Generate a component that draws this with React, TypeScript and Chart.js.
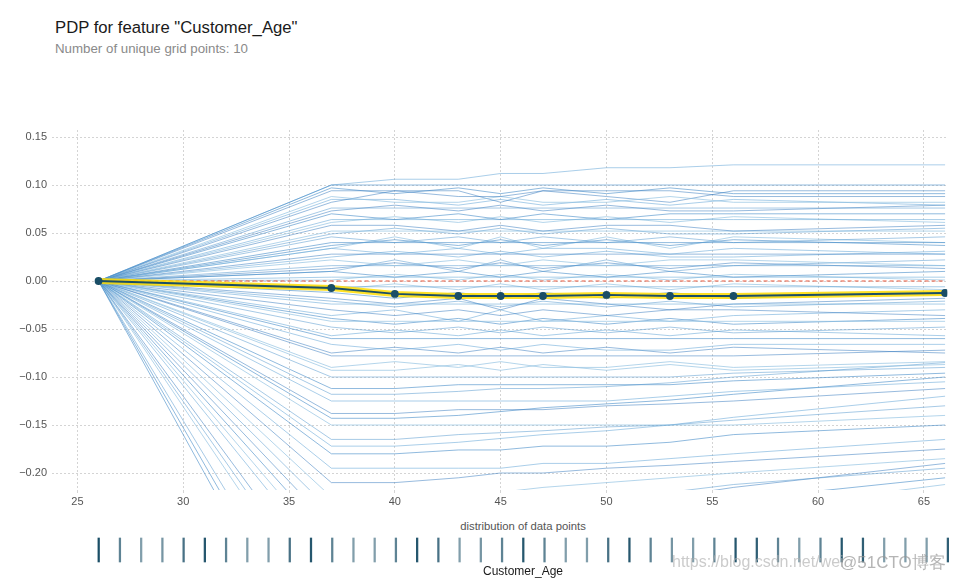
import React, { useEffect, useRef } from "react";
import { Chart, registerables } from "chart.js";
Chart.register(...registerables);

const gridAges = [26, 37, 40, 43, 45, 47, 50, 53, 56, 66];
const pdpValues = [0, -0.0073, -0.0135, -0.0156, -0.0156, -0.0156, -0.0145, -0.0156, -0.0156, -0.0125];

const iceUpper = [
  [0, 0.100, 0.100, 0.100, 0.100, 0.100, 0.100, 0.100, 0.100, 0.100],
  [0, 0.100, 0.106, 0.106, 0.112, 0.112, 0.118, 0.118, 0.121, 0.121],
  [0, 0.094, 0.094, 0.088, 0.088, 0.094, 0.094, 0.094, 0.088, 0.088],
  [0, 0.088, 0.082, 0.082, 0.088, 0.082, 0.082, 0.088, 0.082, 0.082],
  [0, 0.076, 0.076, 0.076, 0.076, 0.076, 0.076, 0.076, 0.076, 0.076],
  [0, 0.070, 0.064, 0.070, 0.064, 0.070, 0.064, 0.070, 0.070, 0.070],
  [0, 0.064, 0.064, 0.064, 0.064, 0.064, 0.064, 0.064, 0.064, 0.064],
  [0, 0.058, 0.058, 0.052, 0.058, 0.052, 0.058, 0.058, 0.052, 0.058],
  [0, 0.052, 0.052, 0.052, 0.052, 0.052, 0.052, 0.052, 0.052, 0.052],
  [0, 0.046, 0.040, 0.046, 0.040, 0.046, 0.040, 0.046, 0.040, 0.046],
  [0, 0.040, 0.040, 0.040, 0.040, 0.040, 0.040, 0.040, 0.040, 0.040],
  [0, 0.034, 0.028, 0.034, 0.028, 0.034, 0.034, 0.028, 0.034, 0.028],
  [0, 0.028, 0.028, 0.028, 0.028, 0.028, 0.028, 0.028, 0.028, 0.028],
  [0, 0.022, 0.016, 0.022, 0.016, 0.022, 0.016, 0.022, 0.022, 0.016],
  [0, 0.016, 0.016, 0.016, 0.016, 0.016, 0.016, 0.016, 0.016, 0.016],
  [0, 0.010, 0.004, 0.010, 0.004, 0.010, 0.004, 0.010, 0.004, 0.010],
  [0, 0.004, 0.004, 0.004, 0.004, 0.004, 0.004, 0.004, 0.004, 0.004],
  [0, 0.082, 0.094, 0.094, 0.082, 0.094, 0.088, 0.082, 0.094, 0.094],
  [0, 0.034, 0.046, 0.034, 0.046, 0.034, 0.046, 0.034, 0.046, 0.040],
  [0, 0.010, 0.022, 0.010, 0.022, 0.010, 0.022, 0.010, 0.016, 0.022],
  [0, 0.097, 0.091, 0.097, 0.091, 0.097, 0.091, 0.097, 0.091, 0.091],
  [0, 0.085, 0.085, 0.079, 0.085, 0.079, 0.085, 0.079, 0.085, 0.079],
  [0, 0.073, 0.079, 0.073, 0.079, 0.073, 0.079, 0.073, 0.073, 0.079],
  [0, 0.061, 0.067, 0.061, 0.067, 0.061, 0.067, 0.061, 0.067, 0.061],
  [0, 0.049, 0.055, 0.049, 0.055, 0.049, 0.055, 0.049, 0.049, 0.055],
  [0, 0.037, 0.043, 0.037, 0.043, 0.037, 0.043, 0.037, 0.043, 0.037],
  [0, 0.025, 0.031, 0.025, 0.031, 0.025, 0.031, 0.025, 0.025, 0.031],
  [0, 0.013, 0.019, 0.013, 0.019, 0.013, 0.019, 0.013, 0.019, 0.013],
  [0, 0.001, 0.007, 0.001, 0.007, 0.001, 0.007, 0.001, 0.007, 0.001],
];

const iceLower = [
  [0, -0.006, -0.006, -0.006, -0.006, -0.006, -0.006, -0.006, -0.006, -0.006],
  [0, -0.012, -0.018, -0.012, -0.018, -0.012, -0.018, -0.012, -0.018, -0.012],
  [0, -0.024, -0.024, -0.024, -0.024, -0.024, -0.024, -0.024, -0.024, -0.024],
  [0, -0.030, -0.036, -0.030, -0.036, -0.030, -0.036, -0.030, -0.030, -0.036],
  [0, -0.042, -0.042, -0.042, -0.042, -0.042, -0.042, -0.042, -0.042, -0.042],
  [0, -0.048, -0.054, -0.048, -0.054, -0.048, -0.054, -0.048, -0.054, -0.048],
  [0, -0.060, -0.060, -0.060, -0.060, -0.060, -0.060, -0.060, -0.060, -0.060],
  [0, -0.066, -0.072, -0.066, -0.072, -0.066, -0.072, -0.072, -0.066, -0.066],
  [0, -0.078, -0.078, -0.078, -0.078, -0.078, -0.078, -0.078, -0.078, -0.072],
  [0, -0.090, -0.084, -0.090, -0.084, -0.090, -0.090, -0.084, -0.090, -0.084],
  [0, -0.100, -0.100, -0.100, -0.100, -0.100, -0.100, -0.100, -0.096, -0.090],
  [0, -0.112, -0.112, -0.108, -0.108, -0.108, -0.108, -0.108, -0.104, -0.096],
  [0, -0.125, -0.125, -0.125, -0.125, -0.125, -0.125, -0.120, -0.115, -0.105],
  [0, -0.138, -0.138, -0.134, -0.134, -0.134, -0.130, -0.128, -0.125, -0.112],
  [0, -0.150, -0.150, -0.150, -0.150, -0.150, -0.150, -0.150, -0.150, -0.140],
  [0, -0.165, -0.165, -0.160, -0.158, -0.156, -0.152, -0.150, -0.145, -0.130],
  [0, -0.180, -0.180, -0.176, -0.176, -0.172, -0.172, -0.168, -0.160, -0.150],
  [0, -0.195, -0.195, -0.195, -0.195, -0.190, -0.190, -0.185, -0.180, -0.165],
  [0, -0.210, -0.210, -0.205, -0.200, -0.200, -0.195, -0.192, -0.188, -0.175],
  [0, -0.225, -0.225, -0.225, -0.220, -0.215, -0.210, -0.205, -0.200, -0.185],
  [0, -0.240, -0.240, -0.236, -0.232, -0.228, -0.224, -0.220, -0.212, -0.195],
  [0, -0.270, -0.270, -0.262, -0.256, -0.250, -0.244, -0.236, -0.228, -0.205],
  [0, -0.300, -0.300, -0.292, -0.286, -0.280, -0.270, -0.262, -0.250, -0.220],
  [0, -0.330, -0.330, -0.320, -0.312, -0.304, -0.296, -0.286, -0.276, -0.240],
  [0, -0.360, -0.360, -0.352, -0.344, -0.336, -0.326, -0.316, -0.304, -0.265],
  [0, -0.400, -0.400, -0.390, -0.380, -0.370, -0.360, -0.350, -0.340, -0.300],
  [0, -0.440, -0.440, -0.430, -0.420, -0.410, -0.400, -0.390, -0.380, -0.340],
  [0, -0.036, -0.030, -0.042, -0.030, -0.042, -0.036, -0.042, -0.036, -0.030],
  [0, -0.018, -0.024, -0.018, -0.030, -0.018, -0.024, -0.030, -0.024, -0.018],
  [0, -0.009, -0.003, -0.009, -0.003, -0.009, -0.003, -0.009, -0.003, -0.009],
  [0, -0.021, -0.027, -0.021, -0.027, -0.021, -0.027, -0.021, -0.027, -0.021],
  [0, -0.039, -0.045, -0.039, -0.045, -0.039, -0.045, -0.039, -0.045, -0.039],
  [0, -0.057, -0.051, -0.057, -0.051, -0.057, -0.051, -0.057, -0.051, -0.057],
  [0, -0.075, -0.069, -0.075, -0.069, -0.075, -0.069, -0.075, -0.069, -0.075],
  [0, -0.093, -0.093, -0.087, -0.093, -0.087, -0.093, -0.087, -0.093, -0.087],
  [0, -0.118, -0.118, -0.115, -0.112, -0.112, -0.110, -0.106, -0.100, -0.085],
  [0, -0.143, -0.143, -0.140, -0.136, -0.132, -0.128, -0.124, -0.118, -0.100],
  [0, -0.172, -0.172, -0.168, -0.164, -0.160, -0.156, -0.150, -0.142, -0.120],
  [0, -0.255, -0.255, -0.250, -0.245, -0.240, -0.232, -0.225, -0.215, -0.190],
  [0, -0.285, -0.285, -0.280, -0.272, -0.266, -0.258, -0.250, -0.240, -0.212],
  [0, -0.345, -0.345, -0.338, -0.330, -0.322, -0.312, -0.302, -0.290, -0.255],
  [0, -0.420, -0.420, -0.410, -0.400, -0.390, -0.380, -0.370, -0.360, -0.320],
];

const xTicks = [25, 30, 35, 40, 45, 50, 55, 60, 65];
const yTicks = [-0.2, -0.15, -0.1, -0.05, 0, 0.05, 0.1, 0.15];

const rugAges = [
  26, 27, 28, 29, 30, 31, 32, 33, 34, 35, 36, 37, 38, 39, 40, 41, 42, 43, 44, 45, 46,
  47, 48, 49, 50, 51, 52, 53, 54, 55, 56, 57, 58, 59, 60, 61, 62, 63, 64, 65, 66,
];
const rugDensity = [
  1.0, 0.7, 0.55, 0.6, 0.8, 0.95, 0.7, 0.55, 0.55, 0.8, 0.95, 0.7, 0.55, 0.55, 0.7, 0.95, 0.8,
  0.55, 0.6, 0.7, 0.95, 0.7, 0.55, 0.55, 0.8, 0.95, 0.7, 0.6, 0.55, 0.7, 0.95, 0.9, 0.7, 0.55,
  0.7, 0.95, 0.9, 0.55, 0.55, 0.55, 0.9,
];

const X_MIN = 23.8;
const X_MAX = 66.1;
const Y_MIN = -0.2177;
const Y_MAX = 0.1573;

const FONT = "'Liberation Sans', Arial, Helvetica, sans-serif";
const icePalette = [
  "rgba(70,140,200,0.6)",
  "rgba(100,165,215,0.55)",
  "rgba(50,120,190,0.5)",
  "rgba(140,190,225,0.65)",
  "rgba(80,150,205,0.5)",
];

export default function App() {
  const mainRef = useRef<HTMLCanvasElement>(null);
  const rugRef = useRef<HTMLCanvasElement>(null);

  useEffect(() => {
    Chart.defaults.font.family = FONT;
    const toPts = (vals: number[]) => gridAges.map((x, i) => ({ x, y: vals[i] }));
    const iceAll = [...iceUpper, ...iceLower];
    const iceSets = iceAll.map((line, i) => ({
      data: toPts(line),
      borderColor: icePalette[i % icePalette.length],
      borderWidth: 1,
      pointRadius: 0,
      order: 10,
      tension: 0,
    }));
    const datasets: any[] = [
      ...iceSets,
      {
        data: toPts(gridAges.map(() => 0)),
        borderColor: "#E75438",
        borderWidth: 1.2,
        borderDash: [4, 3],
        pointRadius: 0,
        order: 3,
      },
      {
        data: toPts(pdpValues),
        borderColor: "rgba(254,220,0,0.85)",
        borderWidth: 6,
        pointRadius: 0,
        order: 2,
      },
      {
        data: toPts(pdpValues),
        borderColor: "#1A4E66",
        borderWidth: 1.8,
        pointRadius: 3,
        pointBackgroundColor: "#1A4E66",
        pointBorderColor: "#1A4E66",
        order: 1,
      },
    ];

    const main = new Chart(mainRef.current!, {
      type: "line",
      data: { datasets },
      options: {
        responsive: false,
        animation: false,
        events: [],
        layout: { padding: { left: 0, right: 3, top: 30, bottom: 0 } },
        plugins: { legend: { display: false }, tooltip: { enabled: false } },
        scales: {
          x: {
            type: "linear",
            min: X_MIN,
            max: X_MAX,
            afterFit: (s: any) => { s.height = 30; },
            afterBuildTicks: (s: any) => { s.ticks = xTicks.map((v) => ({ value: v })); },
            grid: { color: "#d4d4d4", lineWidth: 1, drawTicks: true, tickLength: 3 },
            border: { display: false, dash: [2, 2] },
            ticks: { color: "#555", font: { size: 11 }, padding: 2, callback: (v: any) => String(v) },
          },
          y: {
            type: "linear",
            min: Y_MIN,
            max: Y_MAX,
            afterFit: (s: any) => { s.width = 52; },
            afterBuildTicks: (s: any) => { s.ticks = yTicks.map((v) => ({ value: v })); },
            grid: { color: "#d4d4d4", lineWidth: 1, drawTicks: false },
            border: { display: false, dash: [2, 2] },
            ticks: {
              color: "#555",
              font: { size: 11 },
              padding: 5,
              callback: (v: any) => Number(v).toFixed(2).replace("-", "\u2212"),
            },
          },
        },
      },
    });

    const rug = new Chart(rugRef.current!, {
      type: "bar",
      data: {
        datasets: [
          {
            data: rugAges.map((a) => ({ x: a, y: [0.4, 1.6] })),
            barThickness: 1.6,
            backgroundColor: rugDensity.map((d) => `rgba(26,78,102,${d})`),
            borderWidth: 0,
          } as any,
        ],
      },
      options: {
        responsive: false,
        animation: false,
        events: [],
        layout: { padding: { left: 52, right: 3, top: 0, bottom: 0 } },
        plugins: { legend: { display: false }, tooltip: { enabled: false } },
        scales: {
          x: { type: "linear", min: X_MIN, max: X_MAX, display: false, offset: false },
          y: { type: "linear", min: 0, max: 2, display: false },
        },
      },
    });

    return () => {
      main.destroy();
      rug.destroy();
    };
  }, []);

  return (
    <div
      style={{
        position: "absolute",
        left: 0,
        top: 0,
        width: 953,
        height: 581,
        background: "#fff",
        fontFamily: FONT,
        overflow: "hidden",
      }}
    >
      <div style={{ position: "absolute", left: 55, top: 18, fontSize: 16.7, color: "#1a1a1a", whiteSpace: "nowrap" }}>
        PDP for feature "Customer_Age"
      </div>
      <div style={{ position: "absolute", left: 55, top: 41, fontSize: 13.3, color: "#8a8a8a", whiteSpace: "nowrap" }}>
        Number of unique grid points: 10
      </div>
      <canvas ref={mainRef} width={953} height={420} style={{ position: "absolute", left: 0, top: 100 }} />
      <div
        style={{ position: "absolute", left: 423, width: 200, top: 520, fontSize: 11.3, color: "#555", textAlign: "center" }}
      >
        distribution of data points
      </div>
      <canvas ref={rugRef} width={953} height={40} style={{ position: "absolute", left: 0, top: 530 }} />
      <div
        style={{ position: "absolute", left: 423, width: 200, top: 564, fontSize: 12, color: "#1a1a1a", textAlign: "center" }}
      >
        Customer_Age
      </div>
      <div style={{ position: "absolute", left: 672, top: 553, fontSize: 16, color: "rgba(175,175,175,0.65)", whiteSpace: "nowrap" }}>
        https://blog.csdn.net/wei
      </div>
      <div style={{ position: "absolute", left: 840, top: 551, fontSize: 17, color: "rgba(150,150,150,0.7)", whiteSpace: "nowrap" }}>
        @51CTO博客
      </div>
    </div>
  );
}
